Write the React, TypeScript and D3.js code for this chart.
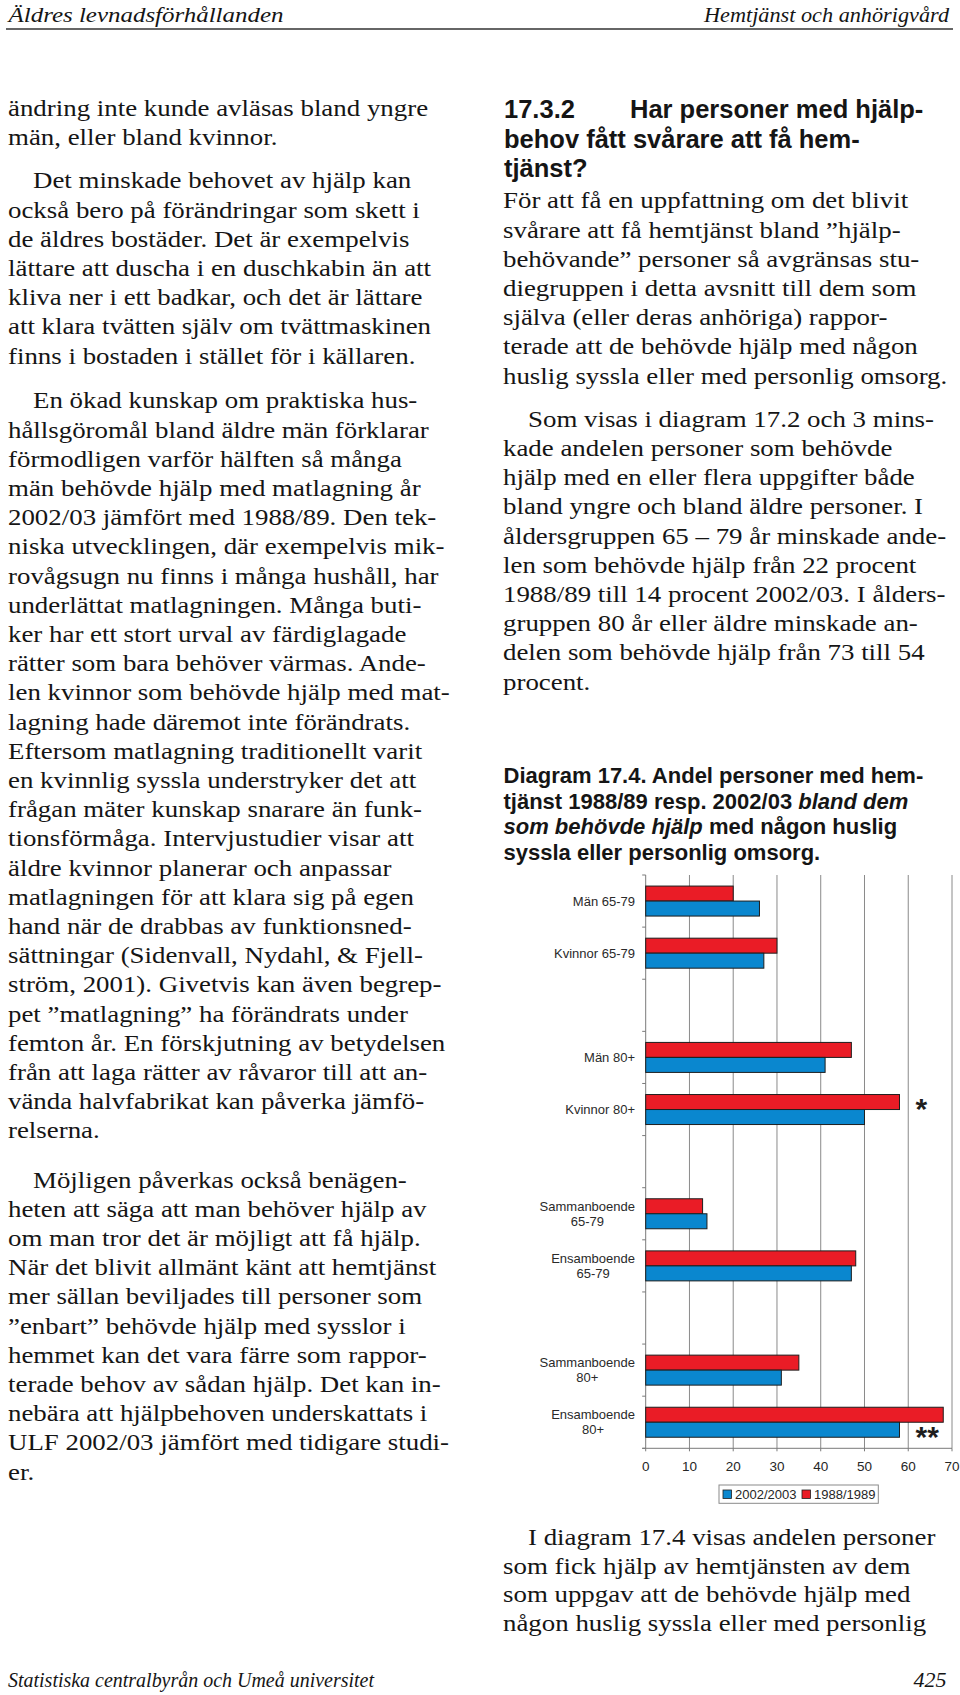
import React, { useEffect, useRef } from "react";
import * as d3 from "d3";

// ---------- Chart data ----------
const categories = [
  "Män 65-79",
  "Kvinnor 65-79",
  "Män 80+",
  "Kvinnor 80+",
  "Sammanboende 65-79",
  "Ensamboende 65-79",
  "Sammanboende 80+",
  "Ensamboende 80+",
];
const categoryLabelLines = [
  ["Män 65-79"],
  ["Kvinnor 65-79"],
  ["Män 80+"],
  ["Kvinnor 80+"],
  ["Sammanboende", "65-79"],
  ["Ensamboende", "65-79"],
  ["Sammanboende", "80+"],
  ["Ensamboende", "80+"],
];
const values2002 = [26, 27, 41, 50, 14, 47, 31, 58];
const values1988 = [20, 30, 47, 58, 13, 48, 35, 68];
const slotOrder = [
  "Män 65-79",
  "Kvinnor 65-79",
  "gap1",
  "Män 80+",
  "Kvinnor 80+",
  "gap2",
  "Sammanboende 65-79",
  "Ensamboende 65-79",
  "gap3",
  "Sammanboende 80+",
  "Ensamboende 80+",
];
const xTicks = [0, 10, 20, 30, 40, 50, 60, 70];
const seriesKeys = ["1988/1989", "2002/2003"]; // top bar, bottom bar
const legendKeys = ["2002/2003", "1988/1989"];
const sigMarks = ["", "", "", "*", "", "", "", "**"];
const sigRow = ["", "", "", "1988/1989", "", "", "", "2002/2003"];
const sigValue = 62;

const COLORS: Record<string, string> = {
  "2002/2003": "#0a87cf",
  "1988/1989": "#ea1c26",
};

// ---------- Page text ----------
const headerLeft = "Äldres levnadsförhållanden";
const headerRight = "Hemtjänst och anhörigvård";
const footerLeft = "Statistiska centralbyrån och Umeå universitet";
const pageNumber = "425";

const leftParagraphs = [
  {
    y0: 116,
    indent: false,
    lines: ["ändring inte kunde avläsas bland yngre", "män, eller bland kvinnor."],
  },
  {
    y0: 188.3,
    indent: true,
    lines: [
      "Det minskade behovet av hjälp kan",
      "också bero på förändringar som skett i",
      "de äldres bostäder. Det är exempelvis",
      "lättare att duscha i en duschkabin än att",
      "kliva ner i ett badkar, och det är lättare",
      "att klara tvätten själv om tvättmaskinen",
      "finns i bostaden i stället för i källaren.",
    ],
  },
  {
    y0: 408.3,
    indent: true,
    lines: [
      "En ökad kunskap om praktiska hus-",
      "hållsgöromål bland äldre män förklarar",
      "förmodligen varför hälften så många",
      "män behövde hjälp med matlagning år",
      "2002/03 jämfört med 1988/89. Den tek-",
      "niska utvecklingen, där exempelvis mik-",
      "rovågsugn nu finns i många hushåll, har",
      "underlättat matlagningen. Många buti-",
      "ker har ett stort urval av färdiglagade",
      "rätter som bara behöver värmas. Ande-",
      "len kvinnor som behövde hjälp med mat-",
      "lagning hade däremot inte förändrats.",
      "Eftersom matlagning traditionellt varit",
      "en kvinnlig syssla understryker det att",
      "frågan mäter kunskap snarare än funk-",
      "tionsförmåga. Intervjustudier visar att",
      "äldre kvinnor planerar och anpassar",
      "matlagningen för att klara sig på egen",
      "hand när de drabbas av funktionsned-",
      "sättningar (Sidenvall, Nydahl, & Fjell-",
      "ström, 2001). Givetvis kan även begrep-",
      "pet ”matlagning” ha förändrats under",
      "femton år. En förskjutning av betydelsen",
      "från att laga rätter av råvaror till att an-",
      "vända halvfabrikat kan påverka jämfö-",
      "relserna.",
    ],
  },
  {
    y0: 1187.5,
    indent: true,
    lines: [
      "Möjligen påverkas också benägen-",
      "heten att säga att man behöver hjälp av",
      "om man tror det är möjligt att få hjälp.",
      "När det blivit allmänt känt att hemtjänst",
      "mer sällan beviljades till personer som",
      "”enbart” behövde hjälp med sysslor i",
      "hemmet kan det vara färre som rappor-",
      "terade behov av sådan hjälp. Det kan in-",
      "nebära att hjälpbehoven underskattats i",
      "ULF 2002/03 jämfört med tidigare studi-",
      "er.",
    ],
  },
];

const rightParagraphs = [
  {
    y0: 208.3,
    indent: false,
    lines: [
      "För att få en uppfattning om det blivit",
      "svårare att få hemtjänst bland ”hjälp-",
      "behövande” personer så avgränsas stu-",
      "diegruppen i detta avsnitt till dem som",
      "själva (eller deras anhöriga) rappor-",
      "terade att de behövde hjälp med någon",
      "huslig syssla eller med personlig omsorg.",
    ],
  },
  {
    y0: 426.7,
    indent: true,
    lines: [
      "Som visas i diagram 17.2 och 3 mins-",
      "kade andelen personer som behövde",
      "hjälp med en eller flera uppgifter både",
      "bland yngre och bland äldre personer. I",
      "åldersgruppen 65 – 79 år minskade ande-",
      "len som behövde hjälp från 22 procent",
      "1988/89 till 14 procent 2002/03. I ålders-",
      "gruppen 80 år eller äldre minskade an-",
      "delen som behövde hjälp från 73 till 54",
      "procent.",
    ],
  },
  {
    y0: 1545,
    indent: true,
    lines: [
      "I diagram 17.4 visas andelen personer",
      "som fick hjälp av hemtjänsten av dem",
      "som uppgav att de behövde hjälp med",
      "någon huslig syssla eller med personlig",
    ],
  },
];

const headingNumber = "17.3.2";
const headingLines = ["Har personer med hjälp-", "behov fått svårare att få hem-", "tjänst?"];

// title segments: [text, italic]
const titleLines: [string, boolean][][] = [
  [["Diagram 17.4. Andel personer med hem-", false]],
  [["tjänst 1988/89 resp. 2002/03 ", false], ["bland dem", true]],
  [["som behövde hjälp", true], [" med någon huslig", false]],
  [["syssla eller personlig omsorg.", false]],
];

const SERIF = "'Liberation Serif', 'Times New Roman', serif";
const SANS = "'Liberation Sans', Arial, Helvetica, sans-serif";
const TEXT_COLOR = "#151515";
const SX = 1.12;
const LH = 29.2;

function BodyLine({ x, y, text }: { x: number; y: number; text: string }) {
  return (
    <text
      transform={`translate(${x},${y}) scale(${SX},1)`}
      fontFamily={SERIF}
      fontSize={24}
      fill={TEXT_COLOR}
    >
      {text}
    </text>
  );
}

function Chart() {
  const ref = useRef<SVGGElement>(null);
  useEffect(() => {
    const g = d3.select(ref.current);
    g.selectAll("*").remove();

    const plotTop = 875;
    const plotBottom = 1448.3;
    const plotLeft = 645.7;
    const plotRight = 952;

    const x = d3.scaleLinear().domain([0, 70]).range([plotLeft, plotRight]);
    const p = 0.4244;
    const y = d3
      .scaleBand<string>()
      .domain(slotOrder)
      .range([plotTop, plotBottom])
      .paddingInner(p)
      .paddingOuter(p / 2);
    const ySub = d3.scaleBand<string>().domain(seriesKeys).range([0, y.bandwidth()]);
    const step = y.step();

    // gridlines
    g.append("g")
      .selectAll("line")
      .data(xTicks.filter((t) => t > 0))
      .join("line")
      .attr("x1", (d) => x(d))
      .attr("x2", (d) => x(d))
      .attr("y1", plotTop)
      .attr("y2", plotBottom)
      .attr("stroke", "#8a8a8a")
      .attr("stroke-width", 1);

    // left axis
    g.append("line")
      .attr("x1", plotLeft)
      .attr("x2", plotLeft)
      .attr("y1", plotTop)
      .attr("y2", plotBottom)
      .attr("stroke", "#7a7a7a")
      .attr("stroke-width", 1);
    const boundaries = d3.range(slotOrder.length + 1).map((i) => plotTop + i * step);
    g.append("g")
      .selectAll("line")
      .data(boundaries)
      .join("line")
      .attr("x1", plotLeft - 3.5)
      .attr("x2", plotLeft)
      .attr("y1", (d) => d)
      .attr("y2", (d) => d)
      .attr("stroke", "#7a7a7a");

    // bottom axis
    g.append("line")
      .attr("x1", plotLeft - 3.5)
      .attr("x2", plotRight)
      .attr("y1", plotBottom)
      .attr("y2", plotBottom)
      .attr("stroke", "#7a7a7a");
    g.append("g")
      .selectAll("line")
      .data(xTicks)
      .join("line")
      .attr("x1", (d) => x(d))
      .attr("x2", (d) => x(d))
      .attr("y1", plotBottom)
      .attr("y2", plotBottom + 3)
      .attr("stroke", "#7a7a7a");
    g.append("g")
      .selectAll("text")
      .data(xTicks)
      .join("text")
      .attr("x", (d) => x(d))
      .attr("y", plotBottom + 22.5)
      .attr("text-anchor", "middle")
      .attr("font-family", SANS)
      .attr("font-size", 13.5)
      .attr("fill", "#262626")
      .text((d) => String(d));

    // bars
    const rows = categories.map((c, i) => ({
      cat: c,
      i,
      vals: { "2002/2003": values2002[i], "1988/1989": values1988[i] } as Record<string, number>,
    }));
    const groups = g
      .append("g")
      .selectAll("g")
      .data(rows)
      .join("g")
      .attr("transform", (d) => `translate(0,${y(d.cat)})`);
    groups
      .selectAll("rect")
      .data((d) => seriesKeys.map((k) => ({ k, v: d.vals[k] })))
      .join("rect")
      .attr("x", x(0))
      .attr("y", (d) => ySub(d.k)!)
      .attr("width", (d) => x(d.v) - x(0))
      .attr("height", ySub.bandwidth())
      .attr("fill", (d) => COLORS[d.k])
      .attr("stroke", "#1e1e1e")
      .attr("stroke-width", 1);

    // category labels
    const labelRight = 635;
    rows.forEach((r) => {
      const lines = categoryLabelLines[r.i];
      const cy = y(r.cat)! + y.bandwidth() / 2;
      const lh = 15.3;
      const first = cy - ((lines.length - 1) * lh) / 2 + 4.5;
      const t = g
        .append("text")
        .attr("font-family", SANS)
        .attr("font-size", 13)
        .attr("fill", "#2a2a2a");
      const t0 = t
        .append("tspan")
        .attr("x", labelRight)
        .attr("y", first)
        .attr("text-anchor", "end")
        .text(lines[0]);
      if (lines.length > 1) {
        const w = (t0.node() as SVGTSpanElement).getComputedTextLength();
        for (let k = 1; k < lines.length; k++) {
          t.append("tspan")
            .attr("x", labelRight - w / 2)
            .attr("y", first + k * lh)
            .attr("text-anchor", "middle")
            .text(lines[k]);
        }
      }
    });

    // significance marks
    rows.forEach((r) => {
      if (!sigMarks[r.i]) return;
      const cy = y(r.cat)! + ySub(sigRow[r.i])! + ySub.bandwidth() / 2;
      g.append("text")
        .attr("x", x(sigValue) - 1.5)
        .attr("y", cy + 17)
        .attr("font-family", SANS)
        .attr("font-weight", "bold")
        .attr("font-size", 30)
        .attr("fill", "#1e1e1e")
        .text(sigMarks[r.i]);
    });

    // legend
    const lx = 719;
    const ly = 1485;
    g.append("rect")
      .attr("x", lx)
      .attr("y", ly)
      .attr("width", 159.3)
      .attr("height", 18.3)
      .attr("fill", "#fff")
      .attr("stroke", "#8a8a8a");
    const itemX = [lx + 4, lx + 83];
    legendKeys.forEach((k, i) => {
      g.append("rect")
        .attr("x", itemX[i])
        .attr("y", ly + 5)
        .attr("width", 8.5)
        .attr("height", 8.5)
        .attr("fill", COLORS[k])
        .attr("stroke", "#1e1e1e")
        .attr("stroke-width", 0.8);
      g.append("text")
        .attr("x", itemX[i] + 12)
        .attr("y", ly + 14)
        .attr("font-family", SANS)
        .attr("font-size", 13)
        .attr("fill", "#262626")
        .text(k);
    });
  }, []);
  return <g ref={ref} />;
}

export default function App() {
  const leftX = 8;
  const rightX = 503;
  const indent = 25;
  return (
    <svg
      width={960}
      height={1695}
      style={{ position: "absolute", left: 0, top: 0, display: "block", background: "#fff" }}
    >
      <rect x={0} y={0} width={960} height={1695} fill="#fff" />
      {/* header */}
      <text
        x={8.5}
        y={21.5}
        fontFamily={SERIF}
        fontStyle="italic"
        fontSize={22}
        fill={TEXT_COLOR}
        textLength={275}
        lengthAdjust="spacingAndGlyphs"
      >
        {headerLeft}
      </text>
      <text
        x={704}
        y={21.5}
        fontFamily={SERIF}
        fontStyle="italic"
        fontSize={22}
        fill={TEXT_COLOR}
        textLength={245}
        lengthAdjust="spacingAndGlyphs"
      >
        {headerRight}
      </text>
      <line x1={6} x2={953} y1={29} y2={29} stroke="#333" strokeWidth={1.6} />

      {/* left column */}
      {leftParagraphs.map((p, pi) =>
        p.lines.map((l, li) => (
          <BodyLine
            key={`l${pi}-${li}`}
            x={leftX + (p.indent && li === 0 ? indent : 0)}
            y={p.y0 + li * LH}
            text={l}
          />
        ))
      )}

      {/* right heading */}
      <text x={504} y={118} fontFamily={SANS} fontWeight="bold" fontSize={25.5} fill={TEXT_COLOR}>
        {headingNumber}
      </text>
      {headingLines.map((l, i) => (
        <text
          key={`h${i}`}
          x={i === 0 ? 630 : 504}
          y={118 + i * 29.5}
          fontFamily={SANS}
          fontWeight="bold"
          fontSize={25.5}
          fill={TEXT_COLOR}
        >
          {l}
        </text>
      ))}

      {rightParagraphs.map((p, pi) =>
        p.lines.map((l, li) => (
          <BodyLine
            key={`r${pi}-${li}`}
            x={rightX + (p.indent && li === 0 ? indent : 0)}
            y={p.y0 + li * (pi === 2 ? 28.6 : LH)}
            text={l}
          />
        ))
      )}

      {/* diagram title */}
      {titleLines.map((segs, i) => (
        <text
          key={`t${i}`}
          x={503.5}
          y={783 + i * 25.7}
          fontFamily={SANS}
          fontWeight="bold"
          fontSize={22}
          fill={TEXT_COLOR}
        >
          {segs.map(([s, it], j) => (
            <tspan key={j} fontStyle={it ? "italic" : "normal"}>
              {s}
            </tspan>
          ))}
        </text>
      ))}

      <Chart />

      {/* footer */}
      <text
        x={8}
        y={1687}
        fontFamily={SERIF}
        fontStyle="italic"
        fontSize={22}
        fill={TEXT_COLOR}
        textLength={366}
        lengthAdjust="spacingAndGlyphs"
      >
        {footerLeft}
      </text>
      <text
        x={946.5}
        y={1687}
        textAnchor="end"
        fontFamily={SERIF}
        fontStyle="italic"
        fontSize={22}
        fill={TEXT_COLOR}
      >
        {pageNumber}
      </text>
    </svg>
  );
}
